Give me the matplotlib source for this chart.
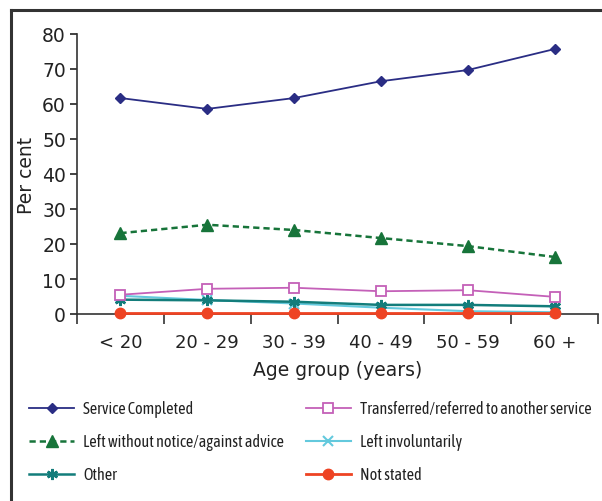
import matplotlib
matplotlib.use("Agg")
import matplotlib.pyplot as plt
from matplotlib.lines import Line2D
import numpy as np

categories = ["<20", "20-29", "30-39", "40-49", "50-59", "60+"]
tick_labels = ["< 20", "20 - 29", "30 - 39", "40 - 49", "50 - 59", "60 +"]
service_completed = [61.7, 58.6, 61.7, 66.5, 69.7, 75.7]
left_without_notice = [23.1, 25.5, 24.0, 21.7, 19.4, 16.3]
transferred = [5.5, 7.2, 7.5, 6.5, 6.8, 4.9]
left_involuntarily = [5.2, 4.0, 3.0, 1.8, 0.8, 0.5]
other = [4.1, 3.9, 3.5, 2.6, 2.6, 2.2]
not_stated = [0.3, 0.3, 0.3, 0.3, 0.3, 0.3]
y_ticks = [0, 10, 20, 30, 40, 50, 60, 70, 80]

fig = plt.figure(figsize=(6.02, 5.02), dpi=100)
ax = fig.add_axes([77/602, 1-315/502, (598-77)/602, (315-35)/502])
x = np.arange(len(categories))

ax.plot(x, service_completed, color="#2a2d84", lw=1.3, marker="D", ms=5.5,
        label="Service Completed", clip_on=False, zorder=5)
ax.plot(x, left_without_notice, color="#17743a", lw=1.8, ls=(0, (2.5, 1.6)), marker="^", ms=8,
        label="Left without notice/against advice", clip_on=False, zorder=5)
ax.plot(x, other, color="#137d7b", lw=1.8, marker=(6, 2, 0), ms=8, mew=1.8,
        label="Other", clip_on=False, zorder=5)
ax.plot(x, transferred, color="#c460b8", lw=1.3, marker="s", ms=7, mfc="white", mew=1.3,
        label="Transferred/referred to another service", clip_on=False, zorder=5)
ax.plot(x, left_involuntarily, color="#63c9dd", lw=1.5, marker="x", ms=7, mew=1.5,
        label="Left involuntarily", clip_on=False, zorder=4)
ax.plot(x, not_stated, color="#ee4323", lw=2.0, marker="o", ms=7.5,
        label="Not stated", clip_on=False, zorder=6)

ax.set_xlim(-0.5, len(categories) - 0.5)
ax.set_ylim(0, 80)
ax.set_yticks(y_ticks)
ax.tick_params(axis="y", direction="out", length=5, width=1.2, labelsize=13.5, pad=3, colors="#222222")
ax.set_xticks(np.arange(len(categories) + 1) - 0.5)
ax.set_xticklabels([])
ax.tick_params(axis="x", which="major", direction="out", length=7, width=1.2, colors="#333333")
ax.set_xticks(x, minor=True)
ax.set_xticklabels(tick_labels, minor=True)
ax.tick_params(axis="x", which="minor", length=0, labelsize=13, pad=14, colors="#222222")
for s in ["top", "right"]:
    ax.spines[s].set_visible(False)
for s in ["left", "bottom"]:
    ax.spines[s].set_linewidth(1.2)
    ax.spines[s].set_color("#333333")

ax.set_xlabel("Age group (years)", fontsize=13.5, labelpad=6, color="#222222")
ax.set_ylabel("Per cent", fontsize=13.5, labelpad=4, color="#222222")

leg = fig.legend(loc="upper left", bbox_to_anchor=(18/602, 1-390/502), ncol=2,
                 frameon=False, borderpad=0.2, handlelength=2.8, handletextpad=0.55,
                 columnspacing=1.35, labelspacing=1.0,
                 prop={"family": ["Asap Condensed", "DejaVu Sans"], "size": 11.6})
for t in leg.get_texts():
    t.set_color("#222222")

fig.add_artist(Line2D([11/602, 11/602], [0, 1-11/502], transform=fig.transFigure, color="#333333", lw=2.2))
fig.add_artist(Line2D([11/602, 1], [1-11/502, 1-11/502], transform=fig.transFigure, color="#333333", lw=2.2))

fig.savefig("out.png", dpi=100)
